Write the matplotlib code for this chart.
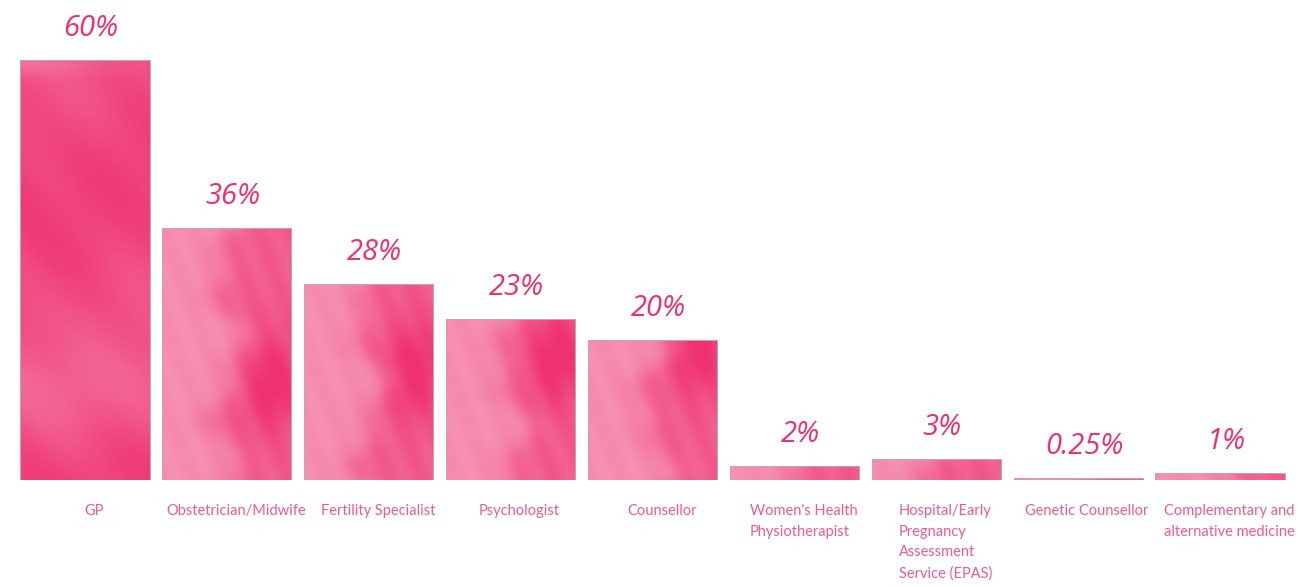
import numpy as np
import matplotlib
matplotlib.use("Agg")
import matplotlib.pyplot as plt
from matplotlib.colors import to_rgb
from matplotlib.transforms import offset_copy

# Data
categories = [
    "GP",
    "Obstetrician/Midwife",
    "Fertility Specialist",
    "Psychologist",
    "Counsellor",
    "Women's Health\nPhysiotherapist",
    "Hospital/Early\nPregnancy\nAssessment\nService (EPAS)",
    "Genetic Counsellor",
    "Complementary and\nalternative medicine",
]
values = [60, 36, 28, 23, 20, 2, 3, 0.25, 1]

LIGHT = np.array(to_rgb("#f8a2c3"))
MID = np.array(to_rgb("#f4789f"))
DARK = np.array(to_rgb("#ef3270"))
VALUE_COLOR = "#f0306a"
LABEL_COLOR = "#f35a8d"
FULL = 60.0


def watercolor(idx, h, nx=90, ny=200):
    """Soft wash texture; y runs in data units so short bars keep the pale base."""
    x = np.linspace(0, 1, nx)[None, :]
    y = np.linspace(0, h / FULL, ny)[:, None]
    ph = idx * 1.3
    if idx == 0:
        # tallest bar: deep, fairly even wash, a little paler near the base and top
        t = 0.84 + 0.07 * np.sin(2 * np.pi * (1.4 * y + 0.3 + 0.08 * np.sin(5 * x)))
        t += 0.04 * np.sin(2 * np.pi * (3.5 * y + 1.2 * x))
        t -= 0.14 * np.exp(-((y - 0.2) / 0.12) ** 2)
        t -= 0.2 * np.exp(-((y - 0.99) / 0.025) ** 2) * (1 - x)
    else:
        edge = 0.48 + 0.10 * np.sin(2 * np.pi * (3.0 * y + ph)) \
            + 0.05 * np.sin(2 * np.pi * (7.0 * y + 0.6 * ph))
        t = 0.25 + 0.45 / (1 + np.exp(-(x - edge) * 14))
        # darker core patch on the right
        core = np.exp(-(((x - 0.85) / 0.22) ** 2 + ((y - 0.2 - 0.03 * idx) / 0.12) ** 2))
        t += 0.35 * core
        t += 0.04 * np.sin(2 * np.pi * (4 * x + 5 * y + ph))
    t = np.clip(t, 0, 1)[..., None]
    rgb = np.where(t < 0.5, LIGHT + (MID - LIGHT) * (t / 0.5),
                   MID + (DARK - MID) * ((t - 0.5) / 0.5))
    return np.clip(rgb, 0, 1)


W, H, DPI = 1300, 587, 100
fig = plt.figure(figsize=(W / DPI, H / DPI), dpi=DPI)
fig.patch.set_facecolor("white")

bottom_px = 107
ax = fig.add_axes([0, bottom_px / H, 1, 1 - bottom_px / H])
ax.set_axis_off()

x = np.arange(len(categories))
width = 0.91
bars = ax.bar(x, values, width=width, color="none",
              edgecolor="#c4a6b0", linewidth=0.7, zorder=3)

for i, rect in enumerate(bars):
    x0, w, h = rect.get_x(), rect.get_width(), rect.get_height()
    img = ax.imshow(watercolor(i, h), extent=(x0, x0 + w, 0, h), origin="lower",
                    aspect="auto", interpolation="bicubic", zorder=2)
    img.set_clip_path(rect)

# axis scale: 60% bar reaches 420 px of a 480 px tall axes
ax.set_ylim(0, 60 * 480 / 420)
spacing = 141.875
ax.set_xlim(-85 / spacing, (W - 85) / spacing)

# value labels above the bars
for xi, v in zip(x, values):
    tr = offset_copy(ax.transData, fig=fig, x=6, y=17, units="dots")
    ax.text(xi, v, f"{v:g}%", transform=tr, ha="center", va="bottom",
            fontsize=21, fontstyle="italic", family="Open Sans",
            color=VALUE_COLOR)

# category labels below the axis
for xi, lab in zip(x, categories):
    tr = offset_copy(ax.transData, fig=fig, x=9, y=-24, units="dots")
    ax.text(xi, 0, lab, transform=tr, ha="center", va="top",
            multialignment="left", fontsize=10.5, family="Lato",
            color=LABEL_COLOR, linespacing=1.6)

fig.savefig("out.png", dpi=DPI, facecolor="white")
